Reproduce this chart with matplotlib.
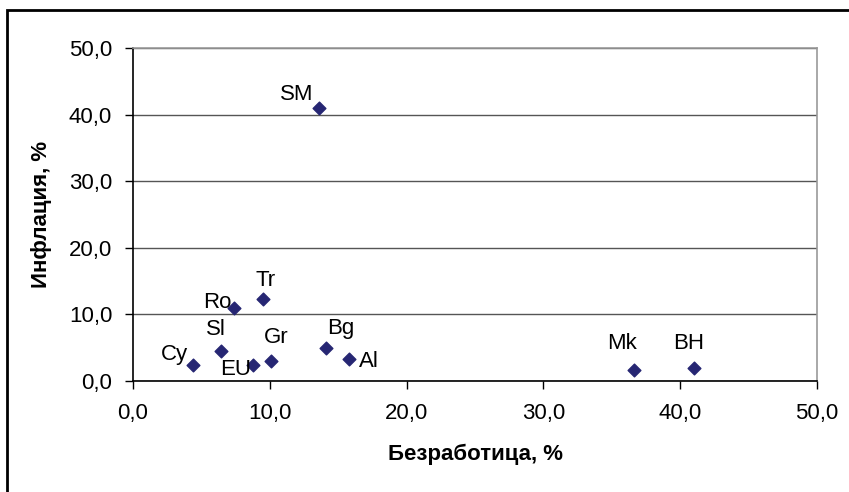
import matplotlib.pyplot as plt
from matplotlib.patches import Rectangle
from matplotlib.ticker import FuncFormatter

plt.rcParams['font.family'] = ['Liberation Sans', 'DejaVu Sans']

countries = ["SM", "Tr", "Ro", "Sl", "Cy", "EU", "Gr", "Bg", "Al", "Mk", "BH"]
unemployment = [13.6, 9.5, 7.4, 6.4, 4.4, 8.8, 10.1, 14.1, 15.8, 36.6, 41.0]
inflation = [41.0, 12.3, 10.9, 4.5, 2.4, 2.4, 3.0, 5.0, 3.3, 1.6, 1.9]

# label offsets in pixels, Excel-style placement by hand
label_offsets = {
    "SM": (-22, 13), "Tr": (3, 19), "Ro": (-17, 6), "Sl": (-5, 22),
    "Cy": (-19, 11), "EU": (-18, -4), "Gr": (5, 24), "Bg": (15, 19),
    "Al": (20, -2), "Mk": (-12, 27), "BH": (-5, 25),
}

FS = 16
W, H = 849, 492
fig = plt.figure(figsize=(W / 100, H / 100), dpi=100)
fig.patches.append(Rectangle((7 / W, -0.1), 1.1, 1.1 - 10 / H, transform=fig.transFigure,
                             fill=False, edgecolor="black", linewidth=2))

ax = fig.add_axes([133 / W, (H - 381) / H, 684 / W, 333 / H])
ax.scatter(unemployment, inflation, marker="D", s=42, color="#262673", zorder=3,
           clip_on=False)

for name, x, y in zip(countries, unemployment, inflation):
    dx, dy = label_offsets[name]
    ax.annotate(name, (x, y), xytext=(dx, dy), textcoords="offset pixels",
                ha="center", va="center", fontsize=FS)

ax.set_xlim(0, 50)
ax.set_ylim(0, 50)
ax.set_xticks(range(0, 51, 10))
ax.set_yticks(range(0, 51, 10))
fmt = FuncFormatter(lambda v, p: f"{v:.1f}".replace(".", ","))
ax.xaxis.set_major_formatter(fmt)
ax.yaxis.set_major_formatter(fmt)
ax.tick_params(labelsize=FS, length=6, width=1, direction="out", color="black")
ax.tick_params(axis="x", pad=10)
ax.tick_params(axis="y", pad=9)

ax.grid(axis="y", color="#555555", linewidth=1)
ax.set_axisbelow(True)
ax.spines["left"].set_color("black")
ax.spines["bottom"].set_color("black")
ax.spines["top"].set_color("#999999")
ax.spines["right"].set_color("#999999")
for s in ax.spines.values():
    s.set_linewidth(1.2)

ax.set_xlabel("Безработица, %", fontsize=FS, fontweight="bold", labelpad=14)
ax.set_ylabel("Инфлация, %", fontsize=FS, fontweight="bold", labelpad=12)

fig.savefig("out.png", dpi=100)
